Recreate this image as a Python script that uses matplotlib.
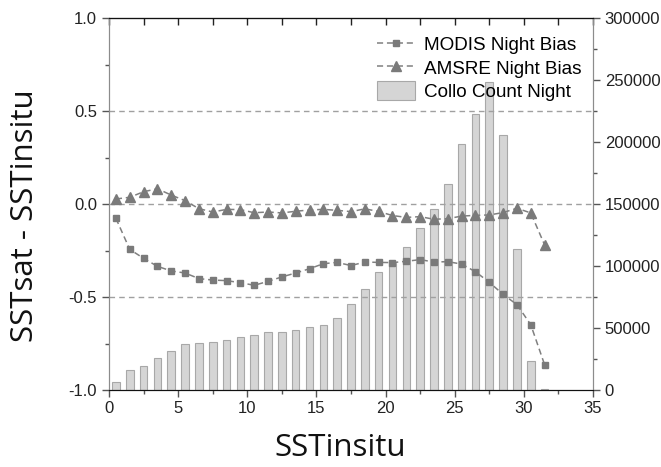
import numpy as np
import matplotlib.pyplot as plt
import matplotlib.ticker as ticker

# --- data: bin centres of in-situ SST, biases and collocation counts ---
sst_bins = [0.5, 1.5, 2.5, 3.5, 4.5, 5.5, 6.5, 7.5, 8.5, 9.5, 10.5, 11.5, 12.5, 13.5, 14.5, 15.5,
            16.5, 17.5, 18.5, 19.5, 20.5, 21.5, 22.5, 23.5, 24.5, 25.5, 26.5, 27.5, 28.5, 29.5,
            30.5, 31.5]

modis_bias = [-0.077, -0.244, -0.292, -0.335, -0.360, -0.371, -0.401, -0.409, -0.412, -0.423,
              -0.437, -0.416, -0.392, -0.371, -0.348, -0.321, -0.314, -0.331, -0.312, -0.314,
              -0.315, -0.308, -0.299, -0.312, -0.310, -0.323, -0.364, -0.421, -0.486, -0.541,
              -0.649, -0.864]

amsre_bias = [0.027, 0.036, 0.066, 0.082, 0.048, 0.018, -0.025, -0.043, -0.029, -0.030,
              -0.047, -0.043, -0.048, -0.039, -0.032, -0.029, -0.034, -0.041, -0.026, -0.040,
              -0.062, -0.072, -0.068, -0.082, -0.079, -0.065, -0.061, -0.059, -0.046, -0.023,
              -0.048, -0.220]

collo_count = [6700, 15900, 19600, 25800, 31500, 36800, 37700, 38500, 40100, 43000,
               44600, 46500, 47000, 48100, 51100, 52700, 58300, 69100, 81500, 94900,
               102700, 115300, 130900, 146200, 166100, 198400, 222900, 248700, 205400, 113700,
               23100, 500]

plt.rcParams['font.family'] = ['Liberation Sans', 'DejaVu Sans']

fig = plt.figure(figsize=(6.61, 4.67), dpi=100)
ax = fig.add_axes([109 / 661, 1 - 390 / 467, 484 / 661, 372 / 467])
ax2 = ax.twinx()

# counts on the right axis, drawn underneath the bias curves
ax2.bar(sst_bins, collo_count, width=0.55, color='#d5d5d5', edgecolor='#a8a8a8', lw=0.8,
        label='Collo Count Night')
ax.set_zorder(ax2.get_zorder() + 1)
ax.patch.set_visible(False)

ax.plot(sst_bins, modis_bias, ls=(0, (4, 2.5)), color='#808080', lw=1.1, marker='s', ms=5,
        mfc='#7a7a7a', mec='#7a7a7a', label='MODIS Night Bias')
ax.plot(sst_bins, amsre_bias, ls=(0, (4, 2.5)), color='#808080', lw=1.1, marker='^', ms=6.5,
        mfc='#7a7a7a', mec='#7a7a7a', label='AMSRE Night Bias')

for yv in (0.5, 0.0, -0.5):
    ax.axhline(yv, color='#a0a0a0', lw=1.0, ls=(0, (4, 3)), zorder=1)

ax.set_xlim(0, 35)
ax.set_ylim(-1.0, 1.0)
ax2.set_ylim(0, 300000)

ax.xaxis.set_major_locator(ticker.MultipleLocator(5))
ax.xaxis.set_minor_locator(ticker.MultipleLocator(2.5))
ax.yaxis.set_major_locator(ticker.MultipleLocator(0.5))
ax.yaxis.set_minor_locator(ticker.MultipleLocator(0.25))
ax.yaxis.set_major_formatter(ticker.FormatStrFormatter('%.1f'))
ax2.yaxis.set_major_locator(ticker.MultipleLocator(50000))
ax2.yaxis.set_minor_locator(ticker.MultipleLocator(25000))

ax.tick_params(axis='both', which='major', direction='out', length=5, width=1,
               labelsize=12, color='#555555', labelcolor='#222222')
ax.tick_params(axis='both', which='minor', direction='out', length=3, width=1, color='#555555')
ax.tick_params(axis='x', which='major', pad=3)
ax2.tick_params(axis='y', which='major', direction='out', length=5, width=1,
                labelsize=12, color='#555555', labelcolor='#222222')
ax2.tick_params(axis='y', which='minor', direction='out', length=3, width=1, color='#555555')

# inward ticks along the top frame
top = ax.secondary_xaxis('top')
top.xaxis.set_major_locator(ticker.MultipleLocator(2.5))
top.tick_params(direction='in', length=5, width=1, labeltop=False, color='#222222')

for a in (ax, ax2):
    a.spines['left'].set_color('#8c8c8c')
    a.spines['right'].set_color('#8c8c8c')
    a.spines['top'].set_color('#111111')
    a.spines['bottom'].set_color('#111111')
top.spines['top'].set_color('#111111')

label_font = ['Open Sans', 'DejaVu Sans']
ax.set_xlabel('SSTinsitu', fontsize=22.5, family=label_font, va='center', color='#111111')
ax.set_ylabel('SSTsat - SSTinsitu', fontsize=22.5, family=label_font, va='center',
              color='#111111')
ax.xaxis.set_label_coords(0.477, -0.155)
ax.yaxis.set_label_coords(-0.174, 0.468)

h1, l1 = ax.get_legend_handles_labels()
h2, l2 = ax2.get_legend_handles_labels()
ax.legend(h1 + h2, l1 + l2, loc='upper right', bbox_to_anchor=(1.0, 0.985), frameon=False,
          fontsize=13.6, handlelength=2.0, handleheight=1.1, labelspacing=0.2,
          handletextpad=0.5, borderaxespad=0.2)

fig.savefig('out.png', dpi=100)
